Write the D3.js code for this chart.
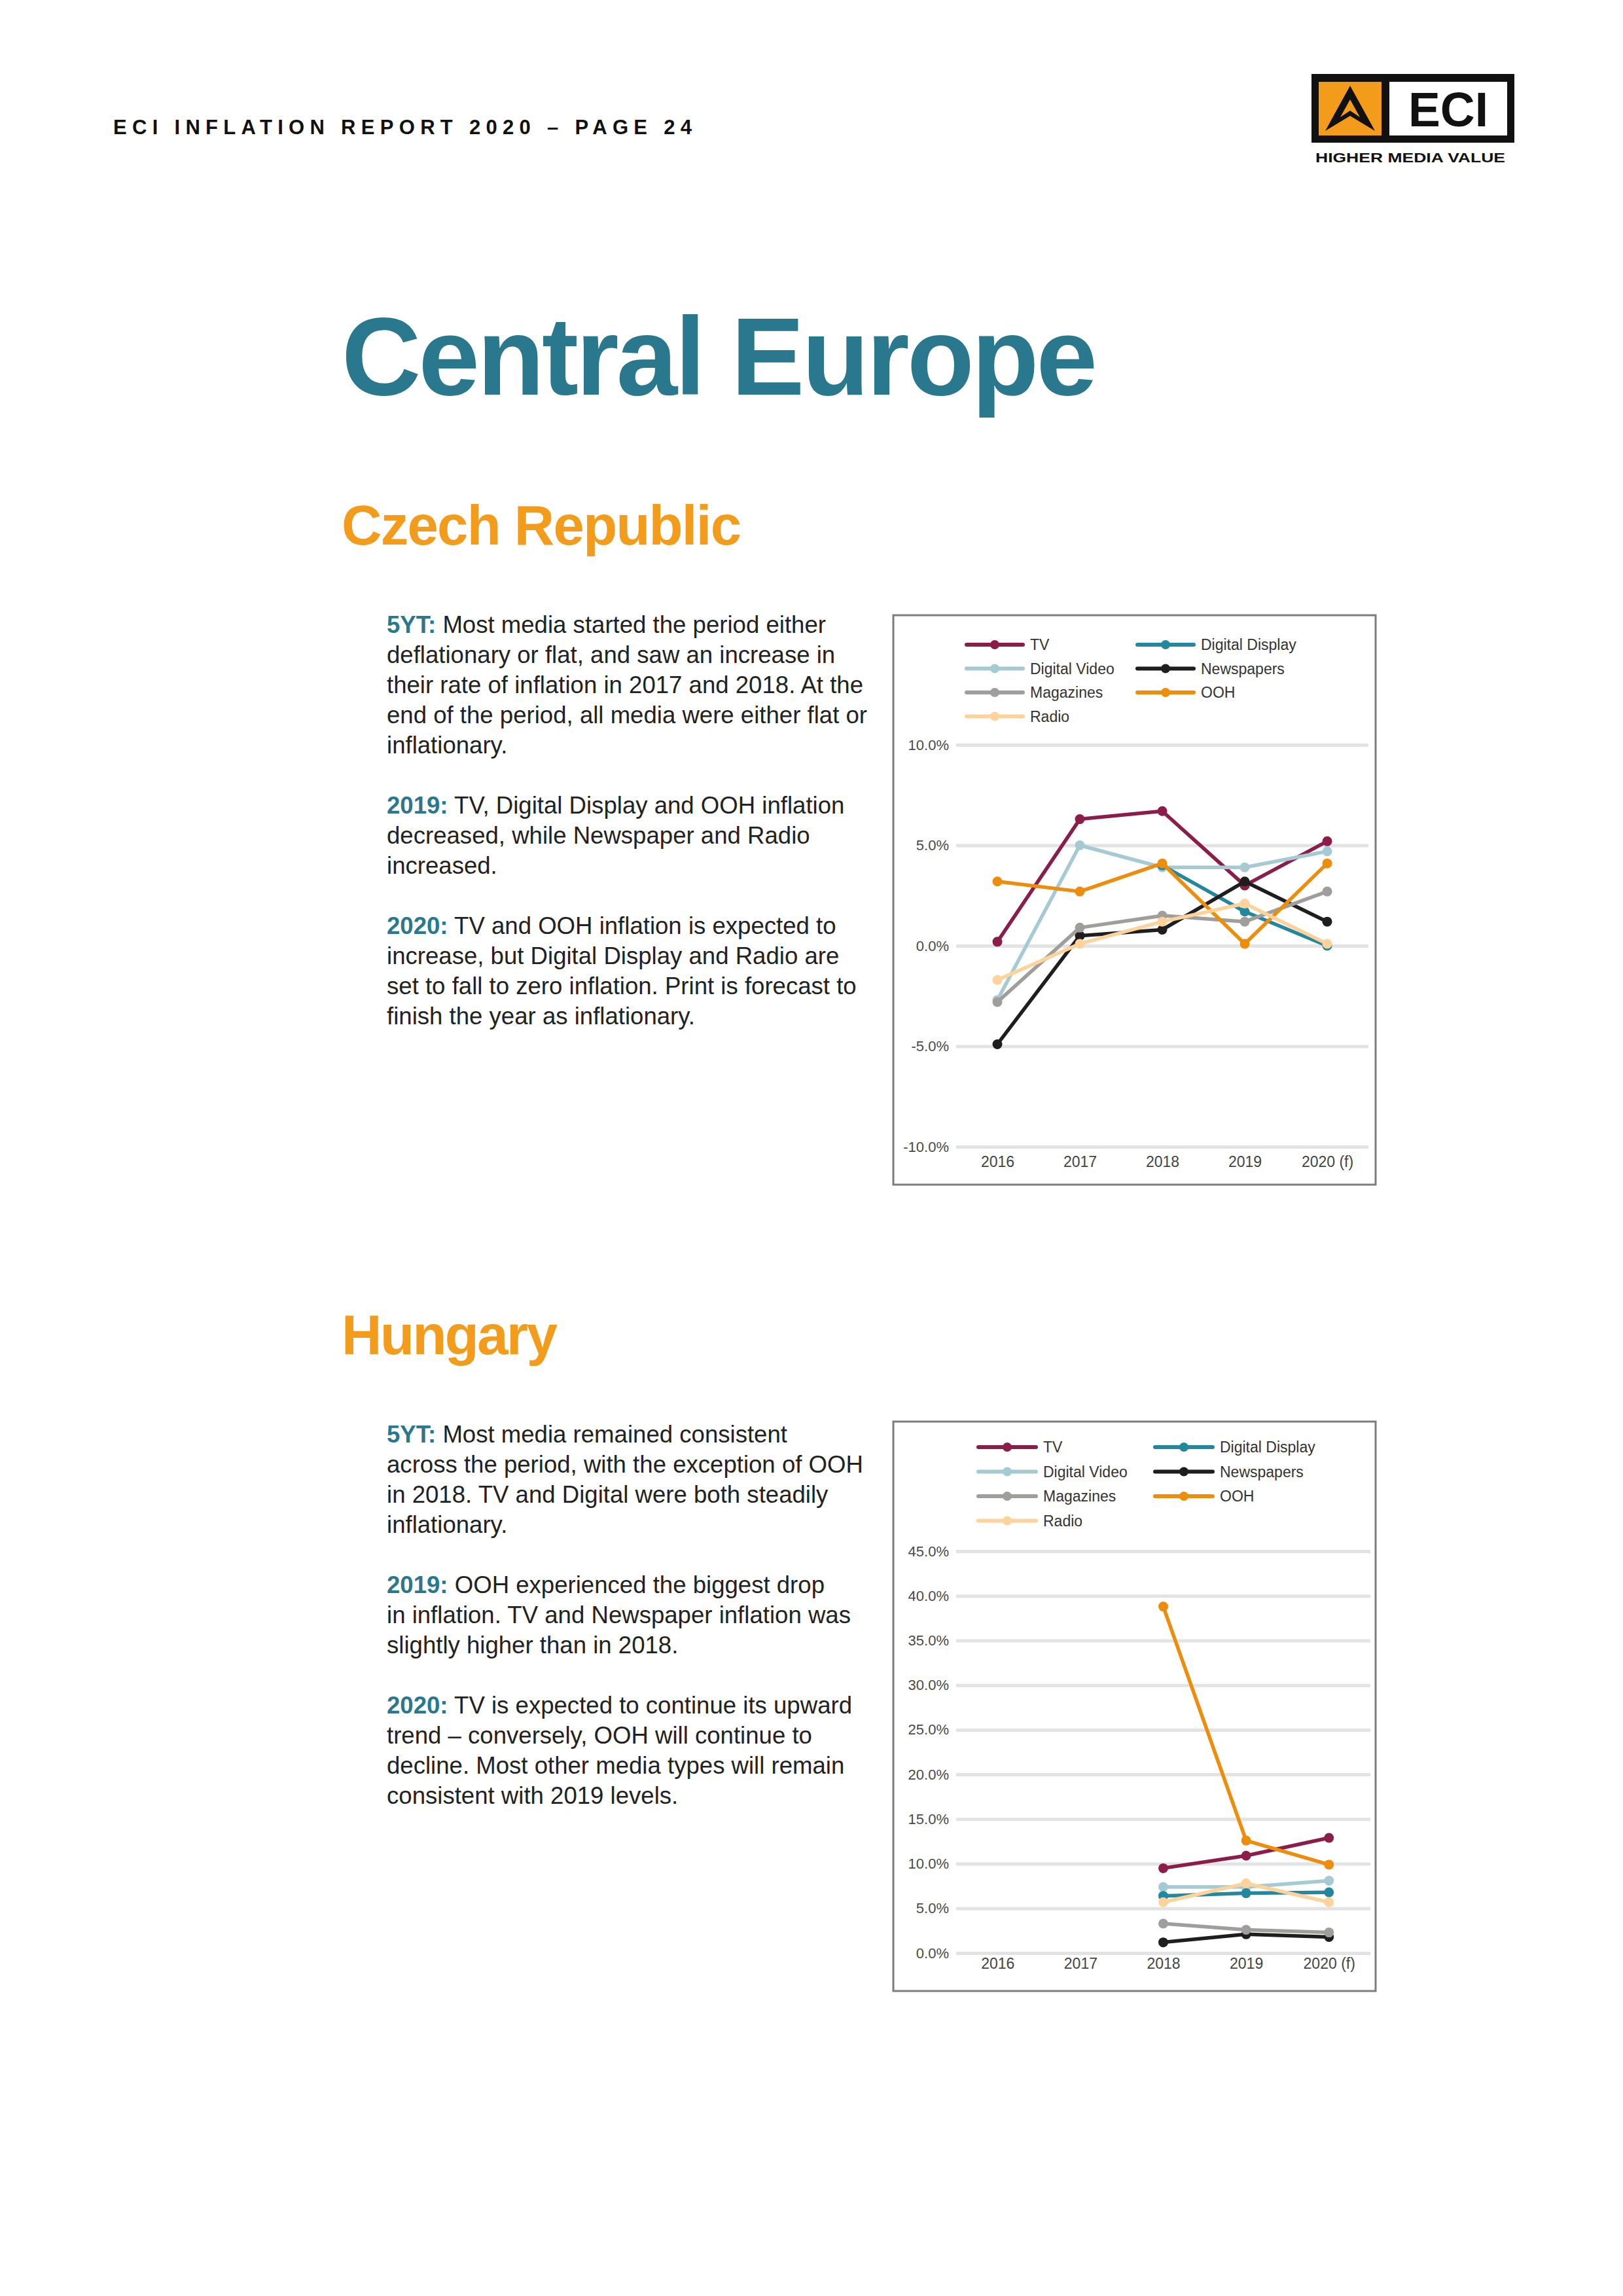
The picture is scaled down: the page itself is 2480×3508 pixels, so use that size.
<!DOCTYPE html>
<html>
<head>
<meta charset="utf-8">
<script src="https://cdn.jsdelivr.net/npm/d3@7"></script>
<style>
  html, body { margin: 0; padding: 0; background: #ffffff; }
  svg { display: block; }
</style>
</head>
<body>
<div id="page"></div>
<script>
// CHART DATA
const YEARS = ["2016", "2017", "2018", "2019", "2020 (f)"];
const MEDIA = ["TV", "Digital Display", "Digital Video", "Newspapers", "Magazines", "OOH", "Radio"];

// Czech Republic, inflation % per year
const CZ_TV = [0.2, 6.3, 6.7, 3.0, 5.2];
const CZ_DIGITAL_DISPLAY = [null, null, 4.0, 1.7, 0.0];
const CZ_DIGITAL_VIDEO = [-2.7, 5.0, 3.9, 3.9, 4.7];
const CZ_NEWSPAPERS = [-4.9, 0.5, 0.8, 3.2, 1.2];
const CZ_MAGAZINES = [-2.8, 0.9, 1.5, 1.2, 2.7];
const CZ_OOH = [3.2, 2.7, 4.1, 0.1, 4.1];
const CZ_RADIO = [-1.7, 0.1, 1.2, 2.1, 0.1];
const CZ_TICKS = [-10, -5, 0, 5, 10];

// Hungary, inflation % per year
const HU_TV = [null, null, 9.5, 10.9, 12.9];
const HU_DIGITAL_DISPLAY = [null, null, 6.4, 6.7, 6.8];
const HU_DIGITAL_VIDEO = [null, null, 7.4, 7.4, 8.1];
const HU_NEWSPAPERS = [null, null, 1.2, 2.1, 1.8];
const HU_MAGAZINES = [null, null, 3.3, 2.6, 2.3];
const HU_OOH = [null, null, 38.8, 12.6, 9.9];
const HU_RADIO = [null, null, 5.7, 7.8, 5.7];
const HU_TICKS = [0, 5, 10, 15, 20, 25, 30, 35, 40, 45];

// text blocks
const CZ_TEXT = [
  {lead: "5YT:", lines: ["Most media started the period either",
                         "deflationary or flat, and saw an increase in",
                         "their rate of inflation in 2017 and 2018. At the",
                         "end of the period, all media were either flat or",
                         "inflationary."]},
  {lead: "2019:", lines: ["TV, Digital Display and OOH inflation",
                          "decreased, while Newspaper and Radio",
                          "increased."]},
  {lead: "2020:", lines: ["TV and OOH inflation is expected to",
                          "increase, but Digital Display and Radio are",
                          "set to fall to zero inflation. Print is forecast to",
                          "finish the year as inflationary."]}
];
const HU_TEXT = [
  {lead: "5YT:", lines: ["Most media remained consistent",
                         "across the period, with the exception of OOH",
                         "in 2018. TV and Digital were both steadily",
                         "inflationary."]},
  {lead: "2019:", lines: ["OOH experienced the biggest drop",
                          "in inflation. TV and Newspaper inflation was",
                          "slightly higher than in 2018."]},
  {lead: "2020:", lines: ["TV is expected to continue its upward",
                          "trend \u2013 conversely, OOH will continue to",
                          "decline. Most other media types will remain",
                          "consistent with 2019 levels."]}
];

// styling
const COLORS = {
  "TV": "#8c1d4a",
  "Digital Display": "#23879e",
  "Digital Video": "#a6cad4",
  "Newspapers": "#1e1e1e",
  "Magazines": "#a09e9b",
  "OOH": "#ee8c0b",
  "Radio": "#fdd39b"
};
const DRAW_ORDER = ["TV", "Digital Video", "Digital Display", "Newspapers", "Magazines", "OOH", "Radio"];
const TEAL = "#2a788d";
const ORANGE = "#f39b1a";
const FONT = "'Liberation Sans', Arial, Helvetica, sans-serif";

const PAGE_WIDTH = 2480;
const PAGE_HEIGHT = 3508;

const SVG = d3.select("#page")
              .append("svg")
                .attr("width", PAGE_WIDTH)
                .attr("height", PAGE_HEIGHT)
                .attr("font-family", FONT);

SVG.append("rect")
    .attr("width", PAGE_WIDTH)
    .attr("height", PAGE_HEIGHT)
    .attr("fill", "#ffffff");

// HEADER
SVG.append("text")
    .attr("x", 173)
    .attr("y", 205)
    .attr("font-size", 31)
    .attr("font-weight", "bold")
    .attr("fill", "#111")
    .attr("textLength", 884)
    .attr("lengthAdjust", "spacing")
    .text("ECI INFLATION REPORT 2020 \u2013 PAGE 24");

// logo
const LOGO = SVG.append("g");
LOGO.append("rect").attr("x", 2004).attr("y", 113).attr("width", 310).attr("height", 105).attr("fill", "#111");
LOGO.append("rect").attr("x", 2015).attr("y", 125).attr("width", 96).attr("height", 82).attr("fill", "#f39b1a");
LOGO.append("rect").attr("x", 2123).attr("y", 125).attr("width", 180).attr("height", 82).attr("fill", "#ffffff");
LOGO.append("polygon")
    .attr("points", "2063,131 2101,200 2063,177 2025,200")
    .attr("fill", "#111");
LOGO.append("polygon")
    .attr("points", "2063,152 2078,179 2063,169 2048,179")
    .attr("fill", "#f39b1a");
LOGO.append("text")
    .attr("x", 2213)
    .attr("y", 193)
    .attr("text-anchor", "middle")
    .attr("font-size", 75)
    .attr("font-weight", "bold")
    .attr("fill", "#111")
    .attr("textLength", 122)
    .attr("lengthAdjust", "spacingAndGlyphs")
    .text("ECI");
LOGO.append("text")
    .attr("x", 2010)
    .attr("y", 248)
    .attr("font-size", 21)
    .attr("font-weight", "bold")
    .attr("fill", "#111")
    .attr("textLength", 290)
    .attr("lengthAdjust", "spacingAndGlyphs")
    .text("HIGHER MEDIA VALUE");

// TITLES
SVG.append("text")
    .attr("x", 522)
    .attr("y", 603)
    .attr("font-size", 168)
    .attr("font-weight", "bold")
    .attr("fill", TEAL)
    .attr("textLength", 1155)
    .attr("lengthAdjust", "spacing")
    .text("Central Europe");

function heading(label, y, width) {
    SVG.append("text")
        .attr("x", 522)
        .attr("y", y)
        .attr("font-size", 85)
        .attr("font-weight", "bold")
        .attr("fill", ORANGE)
        .attr("textLength", width)
        .attr("lengthAdjust", "spacing")
        .text(label);
}
heading("Czech Republic", 832, 611);
heading("Hungary", 2069, 330);

// text paragraphs, one blank line between each
function paragraphs(blocks, firstBaseline) {
    const LINE = 46;
    let row = 0;
    blocks.forEach((b) => {
        b.lines.forEach((line, i) => {
            const t = SVG.append("text")
                .attr("x", 591)
                .attr("y", firstBaseline + row * LINE)
                .attr("font-size", 36.6)
                .attr("fill", "#222");
            if (i === 0) {
                t.append("tspan")
                    .attr("font-weight", "bold")
                    .attr("fill", TEAL)
                    .text(b.lead);
                t.append("tspan").text(" " + line);
            } else {
                t.text(line);
            }
            row += 1;
        });
        row += 1;
    });
}
paragraphs(CZ_TEXT, 967);
paragraphs(HU_TEXT, 2204);

// LINE CHARTS
function build_chart(cfg) {
    const FRAME = SVG.append("g");

    // outer border
    FRAME.append("rect")
        .attr("x", cfg.box.x)
        .attr("y", cfg.box.y)
        .attr("width", cfg.box.w)
        .attr("height", cfg.box.h)
        .attr("fill", "none")
        .attr("stroke", "#7a7d80")
        .attr("stroke-width", 3);

    const X_SCALE = d3.scalePoint()
                        .domain(YEARS)
                        .range([cfg.gridX0, cfg.gridX1])
                        .padding(0.5);
    const Y_SCALE = d3.scaleLinear()
                        .domain(cfg.domain)
                        .range([cfg.yBottom, cfg.yTop]);

    // gridlines with y labels (plain hyphen for negatives)
    const yAxis = FRAME.append("g")
        .attr("transform", "translate(" + cfg.gridX0 + ",0)")
        .call(d3.axisLeft(Y_SCALE)
                .tickValues(cfg.ticks)
                .tickSize(-(cfg.gridX1 - cfg.gridX0))
                .tickPadding(11)
                .tickFormat((d) => d.toFixed(1) + "%"))
        .attr("font-family", FONT)
        .attr("font-size", 22);
    yAxis.select(".domain").remove();
    yAxis.selectAll(".tick line")
        .attr("stroke", "#e3e3e3")
        .attr("stroke-width", 5);
    yAxis.selectAll(".tick text").attr("fill", "#4a4a4a");

    // x labels
    const xAxis = FRAME.append("g")
        .attr("transform", "translate(0," + cfg.xAxisY + ")")
        .call(d3.axisBottom(X_SCALE).tickSize(0).tickPadding(0))
        .attr("font-family", FONT)
        .attr("font-size", 23);
    xAxis.select(".domain").remove();
    xAxis.selectAll(".tick text").attr("fill", "#444");

    const line = d3.line()
        .defined((d) => d != null)
        .x((d, i) => X_SCALE(YEARS[i]))
        .y((d) => Y_SCALE(d));

    DRAW_ORDER.forEach((m) => {
        const values = cfg.series[m];
        FRAME.append("path")
            .datum(values)
            .attr("d", line)
            .attr("fill", "none")
            .attr("stroke", COLORS[m])
            .attr("stroke-width", 5.5)
            .attr("stroke-linejoin", "round");
        FRAME.selectAll(null)
            .data(values.map((v, i) => ({v: v, year: YEARS[i]})).filter((d) => d.v != null))
            .enter()
            .append("circle")
                .attr("cx", (d) => X_SCALE(d.year))
                .attr("cy", (d) => Y_SCALE(d.v))
                .attr("r", 7.5)
                .attr("fill", COLORS[m]);
    });

    // legend, two columns
    MEDIA.forEach((m, i) => {
        const col = i % 2;
        const row = Math.floor(i / 2);
        const lx = cfg.legend.x[col];
        const ly = cfg.legend.y + row * cfg.legend.pitch;
        FRAME.append("line")
            .attr("x1", lx).attr("x2", lx + cfg.legend.len)
            .attr("y1", ly).attr("y2", ly)
            .attr("stroke", COLORS[m])
            .attr("stroke-width", 6)
            .attr("stroke-linecap", "round");
        FRAME.append("circle")
            .attr("cx", lx + cfg.legend.len / 2)
            .attr("cy", ly)
            .attr("r", 7)
            .attr("fill", COLORS[m]);
        FRAME.append("text")
            .attr("x", lx + cfg.legend.len + 11)
            .attr("y", ly)
            .attr("dy", "0.35em")
            .attr("font-size", 23)
            .attr("fill", "#333")
            .text(m);
    });
}

build_chart({
    box: {x: 1365, y: 940, w: 737, h: 870},
    gridX0: 1461, gridX1: 2091,
    domain: [-10, 10], yBottom: 1752, yTop: 1138,
    ticks: CZ_TICKS,
    xAxisY: 1767,
    legend: {x: [1477, 1738], y: 985, pitch: 36.5, len: 86},
    series: {
        "TV": CZ_TV, "Digital Display": CZ_DIGITAL_DISPLAY, "Digital Video": CZ_DIGITAL_VIDEO,
        "Newspapers": CZ_NEWSPAPERS, "Magazines": CZ_MAGAZINES, "OOH": CZ_OOH, "Radio": CZ_RADIO
    }
});

build_chart({
    box: {x: 1365, y: 2172, w: 737, h: 870},
    gridX0: 1461, gridX1: 2094,
    domain: [0, 45], yBottom: 2984, yTop: 2370,
    ticks: HU_TICKS,
    xAxisY: 2992,
    legend: {x: [1495, 1765], y: 2211, pitch: 37.5, len: 88},
    series: {
        "TV": HU_TV, "Digital Display": HU_DIGITAL_DISPLAY, "Digital Video": HU_DIGITAL_VIDEO,
        "Newspapers": HU_NEWSPAPERS, "Magazines": HU_MAGAZINES, "OOH": HU_OOH, "Radio": HU_RADIO
    }
});
</script>
</body>
</html>
